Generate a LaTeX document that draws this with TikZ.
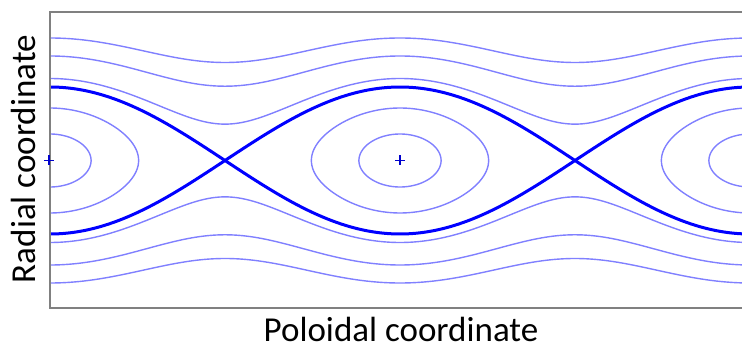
\documentclass[tikz,border=0pt]{standalone}
\usepackage{fontspec}
\setmainfont{Carlito}
\usetikzlibrary{positioning}

\begin{document}
\begin{tikzpicture}[x=1pt, y=-1pt, every node/.style={font=\fontsize{35}{42}\selectfont, inner sep=0pt}, frame/.style={draw=gray, line width=1.6pt}, flux/.style={draw=blue!50, line width=1.4pt}, sepx/.style={draw=blue, line width=3pt}, opoint/.style={draw=blue!80!black, line width=1.8pt}, declare function={th(\x)=(\x-50)/350*180; dy(\x,\h)=sqrt(max(\h-5402.25*sin(th(\x))^2,0));}]
\useasboundingbox (0,0) rectangle (742,347);
\begin{scope}
\clip (50,12) rectangle (742,308);
% open flux surfaces
\foreach \a in {82,104.5,122.5} {
  \draw[flux] plot[domain=50:742, samples=140, smooth] (\x,{160.5-dy(\x,\a*\a)});
  \draw[flux] plot[domain=50:742, samples=140, smooth] (\x,{160.5+dy(\x,\a*\a)});
}
% island surfaces
\foreach \xo in {50,400,750}
  \foreach \a in {26.5,52.5}
    \draw[flux] plot[domain=0:360, samples=120, smooth cycle] ({\xo+asin(\a/73.5*sin(\x))/180*350},{160.5+\a*cos(\x)});
% separatrix
\draw[sepx] plot[domain=50:742, samples=160, smooth] (\x,{160.5-73.5*cos(th(\x))});
\draw[sepx] plot[domain=50:742, samples=160, smooth] (\x,{160.5+73.5*cos(th(\x))});
\end{scope}
\draw[frame] (742,12) -- (50,12) -- (50,308) -- (742,308);
% O-points
\foreach \xo in {49,400}
  \draw[opoint] (\xo-5,160.5) -- +(10,0) (\xo,155.5) -- +(0,10);
\node[rotate=90, anchor=base] (radial) at (35,159) {Radial coordinate};
\node[anchor=base] (poloidal) at (401,342) {Poloidal coordinate};
\end{tikzpicture}
\end{document}
